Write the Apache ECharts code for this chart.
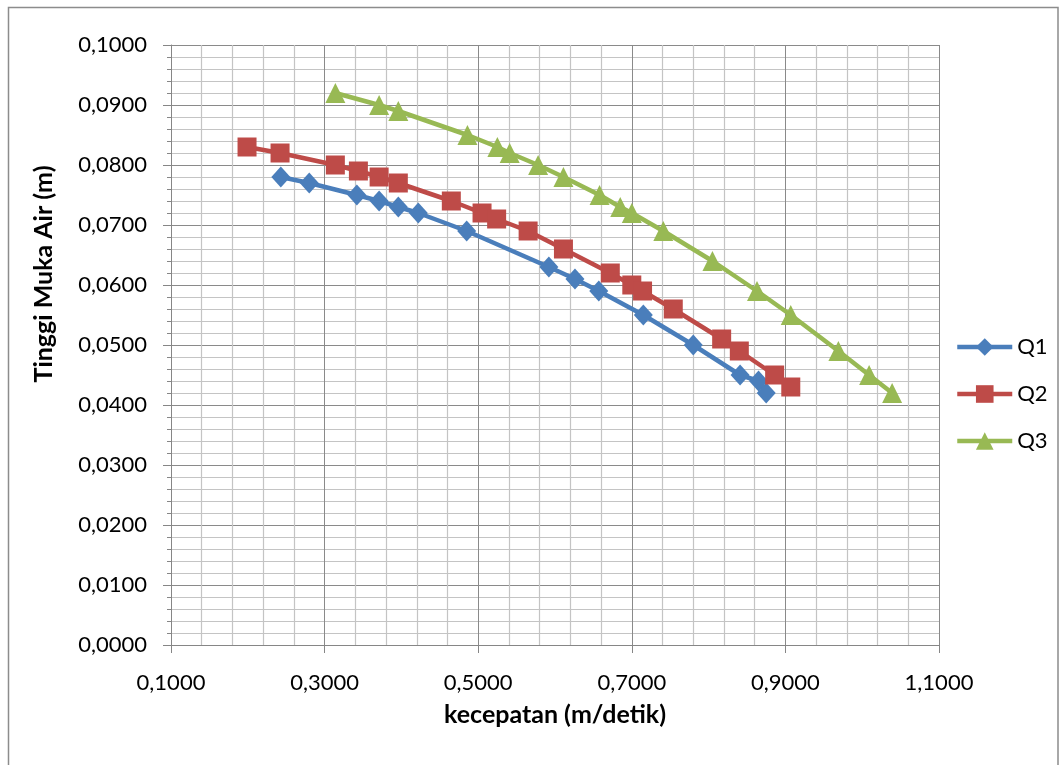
<!DOCTYPE html>
<html>
<head>
<meta charset="utf-8">
<script src="https://cdn.jsdelivr.net/npm/echarts@6/dist/echarts.min.js"></script>
<style>
html,body{margin:0;padding:0;background:#fff;}
#chart{width:1059px;height:765px;}
</style>
</head>
<body>
<div id="chart"></div>
<script>
const seriesNames = ['Q1', 'Q2', 'Q3'];
const q1X = [0.243, 0.280, 0.342, 0.371, 0.396, 0.422, 0.485, 0.592, 0.626, 0.657, 0.715, 0.780, 0.841, 0.865, 0.875];
const q1Y = [0.078, 0.077, 0.075, 0.074, 0.073, 0.072, 0.069, 0.063, 0.061, 0.059, 0.055, 0.050, 0.045, 0.044, 0.042];
const q2X = [0.199, 0.242, 0.314, 0.344, 0.371, 0.396, 0.465, 0.505, 0.524, 0.565, 0.611, 0.672, 0.700, 0.714, 0.754, 0.817, 0.840, 0.886, 0.907];
const q2Y = [0.083, 0.082, 0.080, 0.079, 0.078, 0.077, 0.074, 0.072, 0.071, 0.069, 0.066, 0.062, 0.060, 0.059, 0.056, 0.051, 0.049, 0.045, 0.043];
const q3X = [0.314, 0.371, 0.396, 0.486, 0.525, 0.541, 0.578, 0.611, 0.658, 0.685, 0.700, 0.741, 0.805, 0.863, 0.907, 0.969, 1.009, 1.039];
const q3Y = [0.092, 0.090, 0.089, 0.085, 0.083, 0.082, 0.080, 0.078, 0.075, 0.073, 0.072, 0.069, 0.064, 0.059, 0.055, 0.049, 0.045, 0.042];
const xAxisTitle = 'kecepatan (m/detik)';
const yAxisTitle = 'Tinggi Muka Air (m)';

const FONT = 'Lato';
const colors = ['#4a7ebb', '#be4b48', '#98b954'];
const symbols = ['diamond', 'rect', 'triangle'];
const symbolSizes = [[19, 21], 19, 20];
const xs = [q1X, q2X, q3X];
const ys = [q1Y, q2Y, q3Y];

function fmt(v) { return v.toFixed(4).replace('.', ','); }

const chart = echarts.init(document.getElementById('chart'), null, {renderer: 'canvas'});
chart.setOption({
  animation: false,
  backgroundColor: '#fff',
  grid: {left: 171, right: 120, top: 45, bottom: 120, containLabel: false},
  xAxis: {
    type: 'value', min: 0.1, max: 1.1, interval: 0.2,
    name: xAxisTitle, nameLocation: 'middle', nameGap: 57,
    nameTextStyle: {fontFamily: FONT, fontWeight: 'bold', fontSize: 25, color: '#000'},
    axisLine: {show: true, onZero: false, lineStyle: {color: '#868686', width: 1}},
    axisTick: {show: true, length: 8, inside: false, lineStyle: {color: '#868686'}},
    minorTick: {show: false, splitNumber: 5},
    axisLabel: {formatter: fmt, fontFamily: FONT, fontSize: 22, color: '#000', margin: 27},
    splitLine: {show: true, lineStyle: {color: '#8a8a8a', width: 1}},
    minorSplitLine: {show: true, lineStyle: {color: '#c4c4c4', width: 1.2}}
  },
  yAxis: {
    type: 'value', min: 0, max: 0.1, interval: 0.01,
    axisLine: {show: true, onZero: false, lineStyle: {color: '#868686', width: 1}},
    axisTick: {show: true, length: 8, inside: false, lineStyle: {color: '#868686'}},
    minorTick: {show: true, splitNumber: 5, length: 4, lineStyle: {color: '#868686'}},
    axisLabel: {formatter: fmt, fontFamily: FONT, fontSize: 22, color: '#000', margin: 24},
    splitLine: {show: true, lineStyle: {color: '#8a8a8a', width: 1}},
    minorSplitLine: {show: true, lineStyle: {color: '#c4c4c4', width: 1.2}}
  },
  legend: {
    orient: 'vertical', left: 950, top: 331,
    itemWidth: 55, itemHeight: 22, itemGap: 25,
    lineStyle: {width: 4.5},
    textStyle: {fontFamily: FONT, fontSize: 22, color: '#000'},
    data: seriesNames
  },
  graphic: [
    {type: 'rect', silent: true, z: -1, shape: {x: 8.5, y: 7.5, width: 1049.5, height: 800},
     style: {fill: null, stroke: '#8c8c8c', lineWidth: 1.5}},
    {type: 'text', x: 44, y: 274, rotation: Math.PI / 2,
     style: {text: yAxisTitle, font: 'bold 25px ' + FONT, fill: '#000', textAlign: 'center', textVerticalAlign: 'middle'}}
  ],
  series: seriesNames.map((n, i) => ({
    name: n, type: 'line',
    data: xs[i].map((x, j) => [x, ys[i][j]]),
    symbol: symbols[i], symbolSize: symbolSizes[i],
    showAllSymbol: true,
    lineStyle: {color: colors[i], width: 4.5},
    itemStyle: {color: colors[i], borderWidth: 0},
    z: 2 + i
  }))
});
</script>
</body>
</html>
